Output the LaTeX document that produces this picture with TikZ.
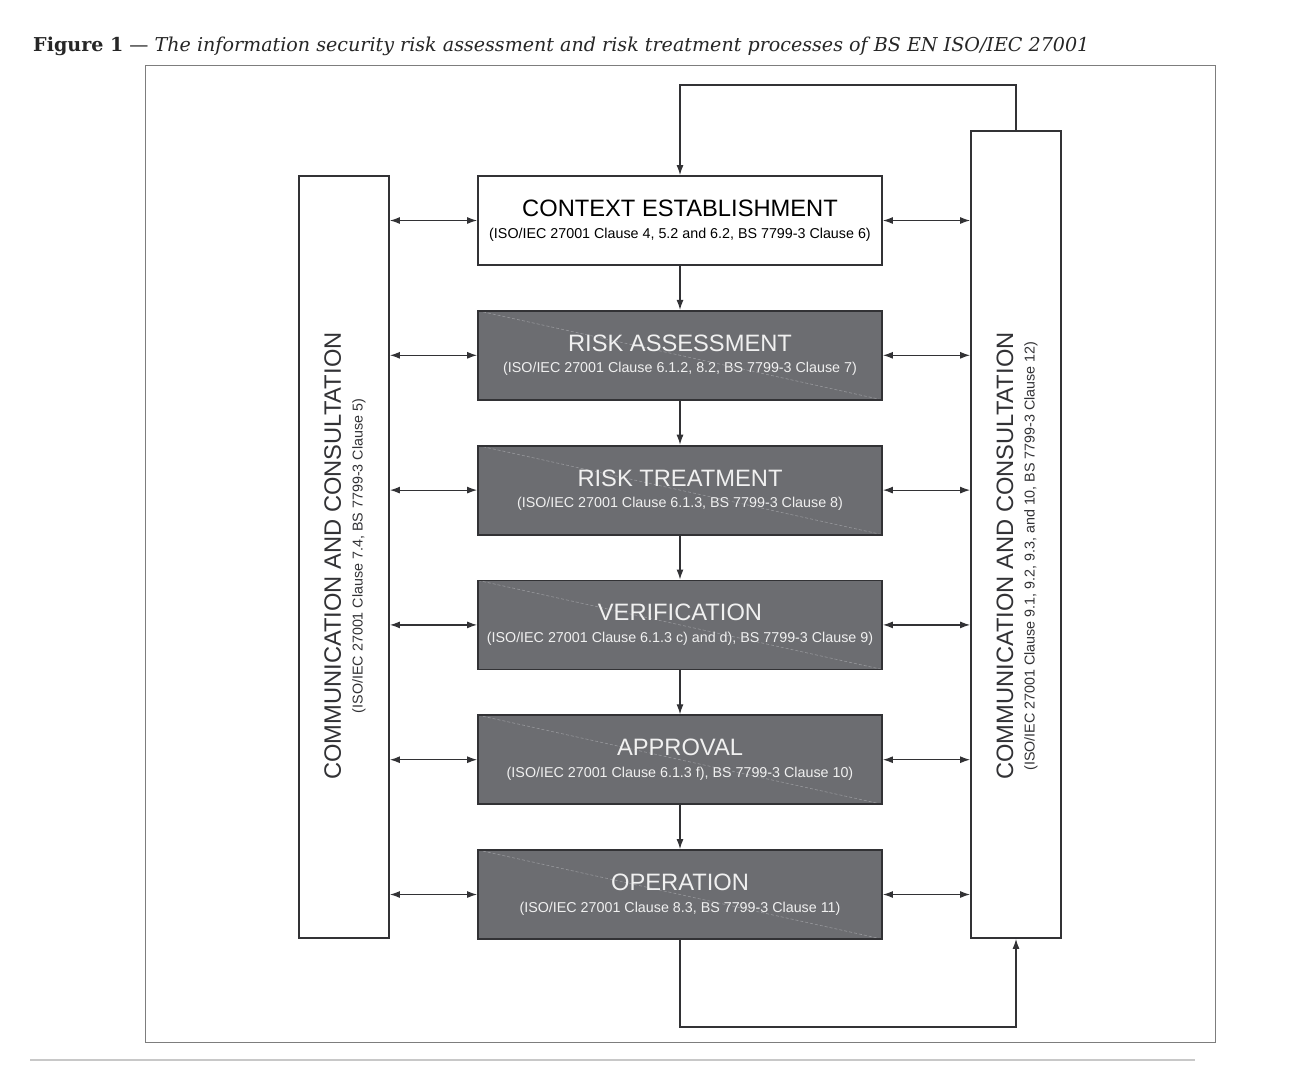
\documentclass[tikz,border=0pt]{standalone}
\usepackage{fontspec}
\setmainfont{Liberation Serif}
\setsansfont{Liberation Sans}
\newfontfamily\titlefont{DejaVu Serif}
\usetikzlibrary{arrows.meta,positioning}

\definecolor{boxgray}{RGB}{108,109,113}
\definecolor{inkgray}{RGB}{50,50,53}
\definecolor{diaggray}{RGB}{150,151,155}
\definecolor{framegray}{RGB}{125,125,125}
\definecolor{rulegray}{RGB}{200,200,200}

\newcommand{\proctext}[2]{#1\\{\fontsize{14.3}{21.6}\selectfont #2}}

\begin{document}
\begin{tikzpicture}[x=1pt,y=-1pt,node distance=44pt,>={Latex[length=10pt,width=7pt]}]
  \tikzstyle{process}=[rectangle,line width=1.8pt,draw=inkgray,fill=white,minimum width=404pt,minimum height=89pt,inner sep=0pt,align=center,font=\sffamily\fontsize{23.7}{21.6}\selectfont,text=black]
  \tikzstyle{risk}=[process,fill=boxgray,text=white!94!black,path picture={\draw[diaggray,dash pattern=on 3pt off 2pt,line width=0.6pt] (path picture bounding box.north west) -- (path picture bounding box.south east);}]
  \tikzstyle{comm}=[rectangle,line width=1.8pt,draw=inkgray,fill=white,minimum width=90pt,inner sep=0pt]
  \tikzstyle{commtext}=[rotate=90,align=center,font=\sffamily\fontsize{23.7}{21.6}\selectfont,text=inkgray,inner sep=0pt]
  \tikzstyle{link}=[line width=1.2pt,inkgray]

  \useasboundingbox (0,0) rectangle (1300,1080);

  % title and frame
  \node [anchor=base west,inner sep=0pt,font=\titlefont\fontsize{19.1}{19.1}\selectfont,text=black!85] (title) at (33,51)
    {\textbf{Figure 1} — \textit{The information security risk assessment and risk treatment processes of BS EN ISO/IEC 27001}};
  \draw [framegray,line width=1pt] (145,65) rectangle (1215,1042);
  \draw [rulegray,line width=2pt] (30,1060) -- (1195,1060);

  \begin{scope}
    % process chain
    \node [process] (ctx) at (680,220.5) {\proctext{CONTEXT ESTABLISHMENT}{(ISO/IEC 27001 Clause 4, 5.2 and 6.2, BS 7799-3 Clause 6)}};
    \node [risk] (assess) [below=of ctx] {\proctext{RISK ASSESSMENT}{(ISO/IEC 27001 Clause 6.1.2, 8.2, BS 7799-3 Clause 7)}};
    \node [risk] (treat) [below=of assess] {\proctext{RISK TREATMENT}{(ISO/IEC 27001 Clause 6.1.3, BS 7799-3 Clause 8)}};
    \node [risk] (verif) [below=of treat] {\proctext{VERIFICATION}{(ISO/IEC 27001 Clause 6.1.3 c) and d), BS 7799-3 Clause 9)}};
    \node [risk] (approv) [below=of verif] {\proctext{APPROVAL}{(ISO/IEC 27001 Clause 6.1.3 f), BS 7799-3 Clause 10)}};
    \node [risk] (oper) [below=of approv] {\proctext{OPERATION}{(ISO/IEC 27001 Clause 8.3, BS 7799-3 Clause 11)}};

    % communication columns
    \node [comm,minimum height=762pt] (lcomm) at (344,557) {};
    \node [comm,minimum height=807pt] (rcomm) at (1016,534.5) {};
    \node [commtext] (lcommtxt) at (345,556) {\proctext{COMMUNICATION AND CONSULTATION}{(ISO/IEC 27001 Clause 7.4, BS 7799-3 Clause 5)}};
    \node [commtext] (rcommtxt) at (1017,556) {\proctext{COMMUNICATION AND CONSULTATION}{(ISO/IEC 27001 Clause 9.1, 9.2, 9.3, and 10, BS 7799-3 Clause 12)}};

    \coordinate (toploop) at (680,85);
    \coordinate (botloop) at (680,1027);
  \end{scope}

  \begin{scope}
    \path [->, link] (ctx) edge (assess);
    \path [->, link] (assess) edge (treat);
    \path [->, link] (treat) edge (verif);
    \path [->, link] (verif) edge (approv);
    \path [->, link] (approv) edge (oper);
    \foreach \p in {ctx,assess,treat,verif,approv,oper}{
      \path [<->, link] (lcomm.east |- \p) edge (\p);
      \path [<->, link] (\p) edge (rcomm.west |- \p);
    }
    \draw [->, link] (rcomm.north) |- (toploop) -- (ctx.north);
    \draw [->, link] (oper.south) -- (botloop) -| (rcomm.south);
  \end{scope}
\end{tikzpicture}
\end{document}
